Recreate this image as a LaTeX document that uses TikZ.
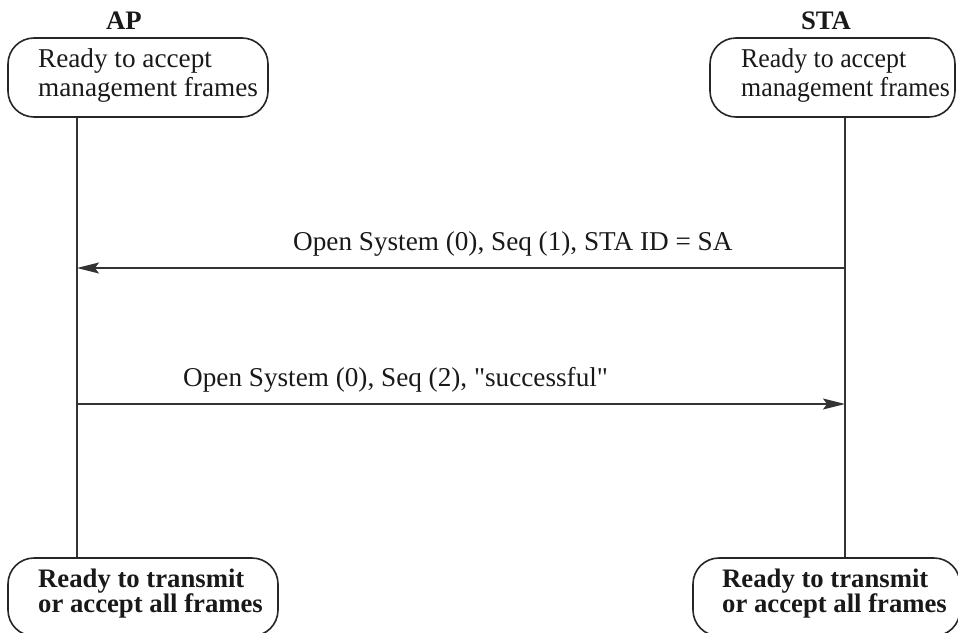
\documentclass[tikz,border=0pt]{standalone}
\usepackage{fontspec}
\setmainfont{Liberation Serif}
\usetikzlibrary{arrows.meta}
\newcommand{\narrowline}[1]{\scalebox{0.95}[1]{#1}}
\begin{document}
\begin{tikzpicture}[x=1pt,y=-1pt,
  statebox/.style={draw=black!85, line width=1.6pt, rounded corners=26pt,
    minimum height=#1, inner sep=0pt},
  lbl/.style={inner sep=0pt, font=\fontsize{27.2}{29}\selectfont, text=black!90},
  boldlbl/.style={inner sep=0pt, font=\fontsize{26.7}{25}\selectfont\bfseries, text=black!90},
  lifeline/.style={draw=black!80, line width=1.7pt},
  msg/.style={draw=black!80, line width=1.6pt,
    -{Stealth[length=22pt, width=11pt, inset=4pt]}},
]
\useasboundingbox (0,0) rectangle (958,632);

% lifeline positions
\coordinate (apL) at (77,0);
\coordinate (staL) at (845,0);

% entity headers
\node[boldlbl, anchor=base] (apHead) at (124,29) {AP};
\node[boldlbl, anchor=base] (staHead) at (826,29) {STA};

% initial states
\node[statebox=79pt, minimum width=260pt] (apTop) at (138,77.5) {};
\node[statebox=79pt, minimum width=245pt] (staTop) at (832.5,77.5) {};
\node[lbl, anchor=base west, align=left] (apTopTxt) at (38,96)
  {Ready to accept\\management frames};
\node[lbl, anchor=base west, align=left] (staTopTxt) at (741,96)
  {\narrowline{Ready to accept}\\\narrowline{management frames}};

% final states
\node[statebox=78pt, minimum width=270pt] (apBot) at (143,597) {};
\node[statebox=78pt, minimum width=267pt] (staBot) at (826.5,597) {};
\node[boldlbl, anchor=base west, align=left] (apBotTxt) at (38,612)
  {Ready to transmit\\or accept all frames};
\node[boldlbl, anchor=base west, align=left] (staBotTxt) at (722,612)
  {Ready to transmit\\or accept all frames};

% lifelines
\draw[lifeline] (apTop.south -| apL) -- (apBot.north -| apL);
\draw[lifeline] (staTop.south -| staL) -- (staBot.north -| staL);

% messages
\coordinate (m1s) at (845,268);
\coordinate (m1e) at (77,268);
\coordinate (m2s) at (77,404);
\coordinate (m2e) at (845,404);
\draw[msg] (m1s) -- (m1e);
\draw[msg] (m2s) -- (m2e);
\node[lbl, anchor=base west] (m1lbl) at (293,250)
  {Open System (0), Seq (1), STA ID = SA};
\node[lbl, anchor=base west] (m2lbl) at (183,386)
  {Open System (0), Seq (2), \textquotedbl successful\textquotedbl};
\end{tikzpicture}
\end{document}
